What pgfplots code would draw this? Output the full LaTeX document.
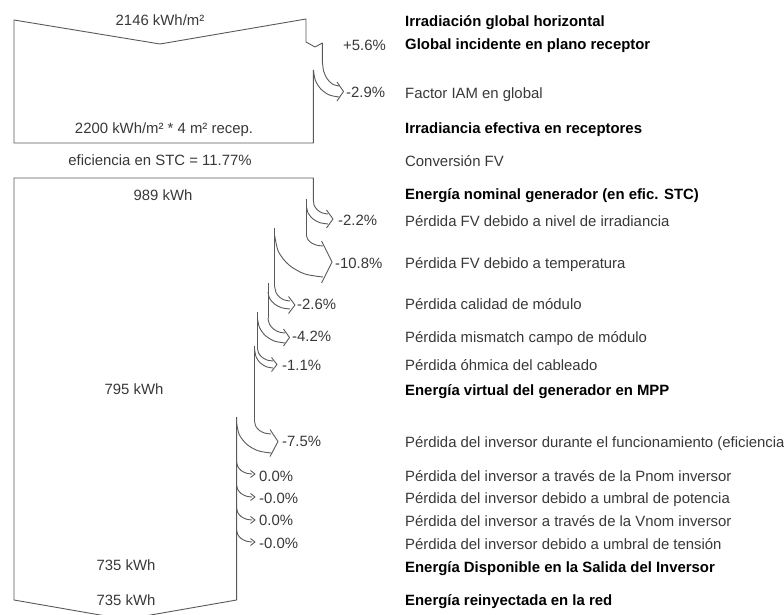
\documentclass[border=0pt]{standalone}
\usepackage{pgfplots}
\pgfplotsset{compat=1.18}
\usepackage{fontspec}
\setmainfont{Liberation Sans}
\definecolor{ln}{gray}{0.35}
\definecolor{tx}{gray}{0.22}
\pgfplotsset{L/.style={color=ln, line width=0.9pt, mark=none, line join=round, solid}}
\begin{document}
\begin{tikzpicture}[
  lbl/.style={anchor=base west, inner sep=0pt, text=tx, font=\fontsize{14.9}{17}\selectfont},
  blbl/.style={anchor=base west, inner sep=0pt, text=black, font=\fontsize{14.9}{17}\selectfont\bfseries},
  val/.style={anchor=base, inner sep=0pt, text=tx, font=\fontsize{14.9}{17}\selectfont},
]
\begin{axis}[scale only axis, width=784pt, height=615pt,
  xmin=0, xmax=784, ymin=0, ymax=615, y dir=reverse, hide axis, clip=true]
% box 1
\addplot[L] coordinates {(322.4,62) (322.4,43) (315,47) (306,42) (306,19) (160,44) (14,20) (14,143) (313.4,143) (313.4,70)};
% -2.9%
\addplot[L,smooth] coordinates {(322.4,62) (323.66,71.19) (327.26,78.97) (332.64,84.18) (339,86)};
\addplot[L,smooth] coordinates {(313.4,70) (315.35,80.34) (320.90,89.09) (329.20,94.95) (339,97)};
\addplot[L] coordinates {(337,82) (343.5,91.5) (337,101)};
% box 2 outline
\addplot[L] coordinates {(313.4,200) (313.4,178) (14,178) (14,600) (125.5,619.4) (236.6,600) (236.6,417)};
% -2.2%
\addplot[L,smooth] coordinates {(313.4,200) (314.14,205.36) (317.39,209.90) (322.25,212.94) (328,214)};
\addplot[L,smooth] coordinates {(306.4,206) (308.04,212.89) (312.73,218.73) (319.73,222.63) (328,224)};
\addplot[L] coordinates {(326.5,210) (333,219) (326.5,228)};
\addplot[L] coordinates {(306.4,199) (306.4,235)};
% -10.8%
\addplot[L,smooth] coordinates {(306.4,235) (307.66,239.21) (311.26,242.78) (316.64,245.16) (323,246)};
\addplot[L,smooth] coordinates {(274.8,236) (278.46,251.70) (288.92,264.99) (304.54,273.88) (323,277)};
\addplot[L] coordinates {(321.5,241) (332,262) (321.5,283)};
\addplot[L] coordinates {(274.8,228) (274.8,287)};
% -2.6%
\addplot[L,smooth] coordinates {(274.8,287) (275.96,292.36) (279.25,296.90) (284.18,299.94) (290,301)};
\addplot[L,smooth] coordinates {(268,292) (269.67,298.51) (274.45,304.02) (281.57,307.71) (290,309)};
\addplot[L] coordinates {(288.5,296.5) (295,305) (288.5,313.5)};
\addplot[L] coordinates {(268,283) (268,318)};
% -4.2%
\addplot[L,smooth] coordinates {(268,318) (269.29,323.75) (272.98,328.61) (278.49,331.86) (285,333)};
\addplot[L,smooth] coordinates {(257.4,318) (259.50,327.58) (265.49,335.68) (274.43,341.10) (285,343)};
\addplot[L] coordinates {(283.5,329) (289.5,337.5) (283.5,346)};
\addplot[L] coordinates {(257.4,312) (257.4,348)};
% -1.1%
\addplot[L,smooth] coordinates {(257.4,348) (258.59,352.98) (261.97,357.19) (267.03,360.01) (273,361)};
\addplot[L,smooth] coordinates {(254.7,350) (256.09,356.89) (260.06,362.73) (265.99,366.63) (273,368)};
\addplot[L] coordinates {(271.5,357.5) (277,364.5) (271.5,371.5)};
\addplot[L] coordinates {(254.7,346) (254.7,422)};
% -7.5%
\addplot[L,smooth] coordinates {(254.7,422) (255.94,426.60) (259.48,430.48) (264.76,433.09) (271,434)};
\addplot[L,smooth] coordinates {(236.6,423) (239.21,434.49) (246.68,444.21) (257.82,450.72) (271,453)};
\addplot[L] coordinates {(270,429.5) (278,441.5) (270,456.5)};
% 0.0% arrows
\addplot[L,smooth] coordinates {(236.6,462) (237.77,466.60) (241.11,470.48) (246.10,473.09) (252,474)};
\addplot[L] coordinates {(250.5,470.5) (255,474) (250.5,477.5)};
\addplot[L,smooth] coordinates {(236.6,485) (237.77,489.60) (241.11,493.48) (246.10,496.09) (252,497)};
\addplot[L] coordinates {(250.5,493.5) (255,497) (250.5,500.5)};
\addplot[L,smooth] coordinates {(236.6,508) (237.77,512.60) (241.11,516.48) (246.10,519.09) (252,520)};
\addplot[L] coordinates {(250.5,516.5) (255,520) (250.5,523.5)};
\addplot[L,smooth] coordinates {(236.6,530) (237.77,534.60) (241.11,538.48) (246.10,541.09) (252,542)};
\addplot[L] coordinates {(250.5,538.5) (255,542) (250.5,545.5)};

% right column
\node[blbl] at (axis cs:405,26.2) {Irradiación global horizontal};
\node[blbl] at (axis cs:405,49.2) {Global incidente en plano receptor};
\node[lbl]  at (axis cs:405,98.2) {Factor IAM en global};
\node[blbl] at (axis cs:405,133.2) {Irradiancia efectiva en receptores};
\node[lbl]  at (axis cs:405,166.2) {Conversión FV};
\node[blbl] at (axis cs:405,199.2) {Energía nominal generador (en efic. STC)};
\node[lbl]  at (axis cs:405,226.2) {Pérdida FV debido a nivel de irradiancia};
\node[lbl]  at (axis cs:405,268.2) {Pérdida FV debido a temperatura};
\node[lbl]  at (axis cs:405,309.2) {Pérdida calidad de módulo};
\node[lbl]  at (axis cs:405,342.2) {Pérdida mismatch campo de módulo};
\node[lbl]  at (axis cs:405,370.2) {Pérdida óhmica del cableado};
\node[blbl] at (axis cs:405,395.2) {Energía virtual del generador en MPP};
\node[lbl]  at (axis cs:405,447.2) {Pérdida del inversor durante el funcionamiento (eficiencia};
\node[lbl]  at (axis cs:405,481.2) {Pérdida del inversor a través de la Pnom inversor};
\node[lbl]  at (axis cs:405,503.2) {Pérdida del inversor debido a umbral de potencia};
\node[lbl]  at (axis cs:405,526.2) {Pérdida del inversor a través de la Vnom inversor};
\node[lbl]  at (axis cs:405,549.2) {Pérdida del inversor debido a umbral de tensión};
\node[blbl] at (axis cs:405,572.2) {Energía Disponible en la Salida del Inversor};
\node[blbl] at (axis cs:405,605.2) {Energía reinyectada en la red};
% percentages
\node[lbl] at (axis cs:343,50.2) {+5.6\%};
\node[lbl] at (axis cs:346,97.2) {-2.9\%};
\node[lbl] at (axis cs:338,225.2) {-2.2\%};
\node[lbl] at (axis cs:335,268.2) {-10.8\%};
\node[lbl] at (axis cs:297,309.2) {-2.6\%};
\node[lbl] at (axis cs:292,341.2) {-4.2\%};
\node[lbl] at (axis cs:282,370.2) {-1.1\%};
\node[lbl] at (axis cs:282,446.2) {-7.5\%};
\node[lbl] at (axis cs:259,481.2) {0.0\%};
\node[lbl] at (axis cs:259,503.2) {-0.0\%};
\node[lbl] at (axis cs:259,525.2) {0.0\%};
\node[lbl] at (axis cs:259,548.2) {-0.0\%};
% values
\node[val] at (axis cs:160,25.2) {2146 kWh/m²};
\node[val] at (axis cs:164,133.2) {2200 kWh/m² * 4 m² recep.};
\node[val] at (axis cs:160,165.2) {eficiencia en STC = 11.77\%};
\node[val] at (axis cs:163,200.2) {989 kWh};
\node[val] at (axis cs:134,394.2) {795 kWh};
\node[val] at (axis cs:126,570.2) {735 kWh};
\node[val] at (axis cs:126,605.2) {735 kWh};
\end{axis}
\pgfresetboundingbox
\path[use as bounding box] (current axis.south west) rectangle (current axis.north east);
\end{tikzpicture}
\end{document}
